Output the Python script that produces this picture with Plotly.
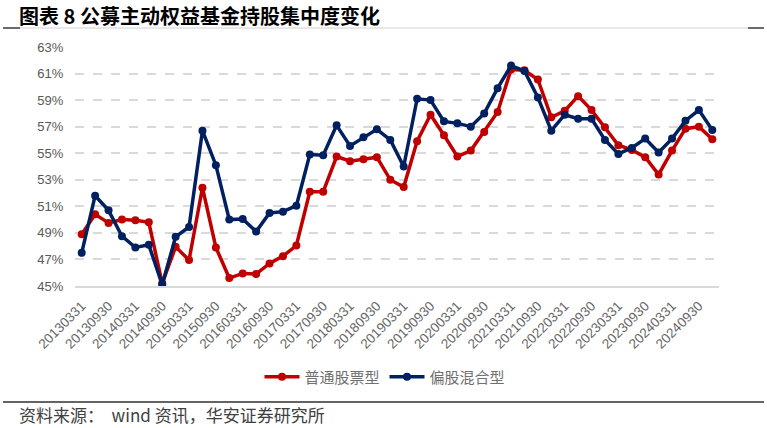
import plotly.graph_objects as go

quarters = []
for yr in range(2013, 2025):
    for md in ["0331", "0630", "0930", "1231"]:
        quarters.append(f"{yr}{md}")

stock_fund = [48.9, 50.4, 49.75, 50.0, 49.95, 49.8, 45.2, 47.95, 46.95, 52.4,
              47.9, 45.6, 45.95, 45.9, 46.7, 47.25, 48.05, 52.1, 52.1, 54.75,
              54.4, 54.55, 54.7, 53.0, 52.45, 55.9, 57.9, 56.35, 54.75, 55.2,
              56.6, 58.1, 61.3, 61.25, 60.55, 57.7, 58.2, 59.3, 58.25, 56.95,
              55.6, 55.25, 54.7, 53.4, 55.2, 56.85, 57.0, 56.05]
mixed_fund = [47.5, 51.8, 50.7, 48.75, 47.9, 48.1, 45.1, 48.7, 49.45, 56.7,
              54.1, 50.0, 50.05, 49.1, 50.5, 50.6, 51.05, 54.9, 54.85, 57.1,
              55.55, 56.2, 56.8, 56.0, 54.0, 59.1, 59.0, 57.4, 57.25, 57.0,
              58.0, 59.9, 61.6, 61.2, 59.2, 56.7, 57.9, 57.6, 57.6, 56.0,
              54.95, 55.4, 56.1, 55.05, 56.1, 57.45, 58.25, 56.75]
y_ticks = [45, 47, 49, 51, 53, 55, 57, 59, 61, 63]

W, H = 767, 428
L, R, T, B = 75, 48, 47, 142
PW, PH = W - L - R, H - T - B

def px(x):
    return (x - L) / PW

def py(y):
    return (H - B - y) / PH

fig = go.Figure()
fig.add_trace(go.Scatter(x=quarters, y=stock_fund, name="普通股票型", mode="lines+markers",
                         line=dict(color="#C00000", width=3.5), marker=dict(size=8, color="#C00000")))
fig.add_trace(go.Scatter(x=quarters, y=mixed_fund, name="偏股混合型", mode="lines+markers",
                         line=dict(color="#002060", width=3.5), marker=dict(size=8, color="#002060")))

fig.update_layout(
    width=W, height=H,
    margin=dict(l=L, r=R, t=T, b=B, autoexpand=False),
    paper_bgcolor="white", plot_bgcolor="white",
    font=dict(family="Liberation Sans, Arial, sans-serif", color="#595959"),
    showlegend=True,
    legend=dict(orientation="h", x=px(385), y=py(377), xanchor="center", yanchor="middle",
                font=dict(family="Noto Sans CJK SC", size=15, color="#6F6F6F"),
                itemwidth=35, tracegroupgap=0),
    xaxis=dict(type="category", range=[-0.5, 47.5], tickmode="array",
               tickvals=quarters[::2], ticktext=quarters[::2], tickangle=-45,
               tickfont=dict(size=13.5, color="#666666"), showgrid=False, zeroline=False,
               showline=True, linecolor="#D9D9D9", linewidth=1.5,
               ticks="outside", ticklen=5, tickcolor="rgba(0,0,0,0)"),
    yaxis=dict(range=[45, 63], tickvals=y_ticks, ticktext=[f"{v}%" for v in y_ticks],
               tickfont=dict(size=13, color="#595959"), showgrid=True, gridcolor="#D9D9D9",
               griddash="dash", gridwidth=1.5, zeroline=False, showline=False,
               ticks="outside", ticklen=8, tickcolor="rgba(0,0,0,0)"),
    shapes=[
        dict(type="line", xref="paper", yref="paper", x0=px(3), x1=px(764), y0=py(28), y1=py(28),
             line=dict(color="#D0D0D0", width=1)),
        dict(type="line", xref="paper", yref="paper", x0=px(3), x1=px(20), y0=py(28), y1=py(28),
             line=dict(color="#404040", width=1.5)),
        dict(type="line", xref="paper", yref="paper", x0=px(748), x1=px(764), y0=py(28), y1=py(28),
             line=dict(color="#404040", width=1.5)),
        dict(type="line", xref="paper", yref="paper", x0=px(3), x1=px(764), y0=py(402), y1=py(402),
             line=dict(color="#303030", width=1.5)),
    ],
    annotations=[
        dict(text="<b>图表 8 公募主动权益基金持股集中度变化</b>", xref="paper", yref="paper",
             x=px(17), y=py(15), xanchor="left", yanchor="middle", showarrow=False,
             font=dict(family="Noto Sans CJK SC", size=20, color="#000000")),
        dict(text="资料来源：  wind 资讯，华安证券研究所", xref="paper", yref="paper",
             x=px(17), y=py(414), xanchor="left", yanchor="middle", showarrow=False,
             font=dict(family="Noto Sans CJK SC", size=17, color="#404040")),
    ],
)

fig.write_html("out.html", config={"displayModeBar": False},
               post_script="document.body.style.margin='0px';")
